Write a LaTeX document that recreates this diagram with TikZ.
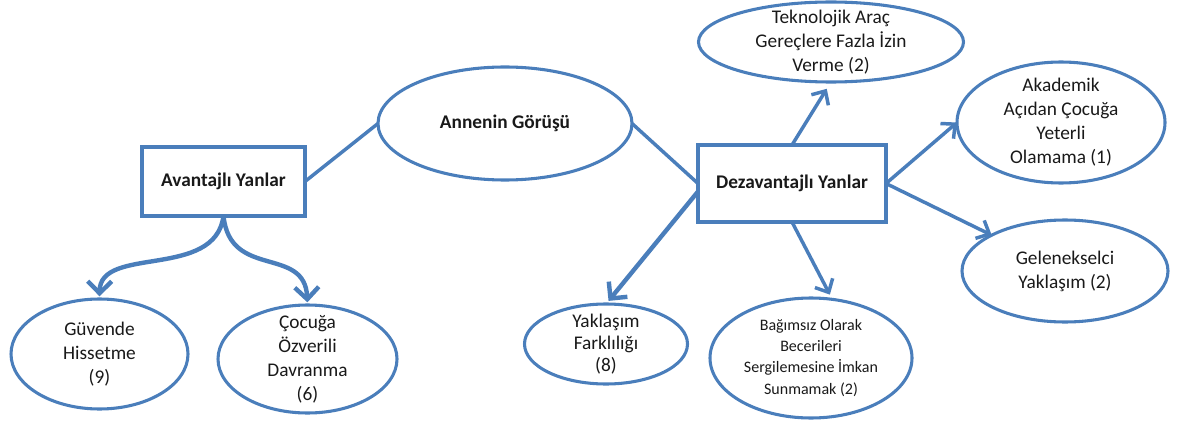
\documentclass[tikz,border=0pt]{standalone}
\usepackage{fontspec}
\setmainfont{Carlito}
\usetikzlibrary{arrows.meta,calc,shapes.geometric}
\definecolor{lnblue}{HTML}{4A7EBB}
\begin{document}
\begin{tikzpicture}[x=0.75pt,y=-0.75pt,
  every node/.style={font=\fontsize{14.5}{18}\selectfont, text=black!90},
  ell/.style 2 args={ellipse, draw=lnblue, line width=2.3pt, inner sep=-60pt, outer sep=0pt, align=center,
    minimum width=#1*0.75pt, minimum height=#2*0.75pt},
  box/.style 2 args={rectangle, draw=lnblue, line width=2.3pt, outer sep=0pt, inner sep=0pt,
    minimum width=#1*0.75pt, minimum height=#2*0.75pt, font=\fontsize{14.5}{18}\selectfont\bfseries},
  link/.style={draw=lnblue, line width=2.6pt},
  arr/.style={link, -{Straight Barb[length=8pt,width=15pt]}},
  bigarr/.style={draw=lnblue, line width=3.3pt, -{Straight Barb[length=9pt,width=18pt]}},
]
\useasboundingbox (0,0) rectangle (1177,424);

\node[box={163}{69}] (avan) at (223.5,181.5) {Avantajlı Yanlar};
\node[box={188}{77}] (dez) at (792,183.5) {Dezavantajlı Yanlar};
\node[ell={254}{113}, font=\fontsize{14.5}{18}\selectfont\bfseries] (ann) at (505,123.5) {Annenin Görüşü};
\node[ell={265}{80}] (tek) at (831,42) {Teknolojik Araç\\Gereçlere Fazla İzin\\Verme (2)};
\node[ell={208}{121}] (aka) at (1061,122.5) {Akademik\\Açıdan Çocuğa\\Yeterli\\Olamama (1)};
\node[ell={206}{102}] (gel) at (1065,271) {Gelenekselci\\Yaklaşım (2)};
\node[ell={202}{120}, font=\fontsize{12}{16}\selectfont] (bag) at (811,358) {\raisebox{-9pt}{\begin{tabular}{@{}c@{}}Bağımsız Olarak\\Becerileri\\Sergilemesine İmkan\\Sunmamak (2)\end{tabular}}};
\node[ell={163}{80}, font=\fontsize{14.5}{16.5}\selectfont] (yak) at (606,344) {Yaklaşım\\Farklılığı\\(8)};
\node[ell={177}{110}] (guv) at (99.5,354) {Güvende\\Hissetme\\(9)};
\node[ell={179}{108}] (coz) at (307.5,359) {Çocuğa\\Özverili\\Davranma\\(6)};

\draw[link] (avan.east) -- (ann.west);
\draw[link] (ann.east) -- (dez.west);
\draw[arr, shorten >=6pt] (dez.north) -- (tek.south);
\draw[arr] (dez.east) -- (aka.west);
\draw[arr] (dez.east) -- (gel);
\draw[arr, shorten >=4pt] (dez.south) -- (bag.70);
\draw[bigarr, shorten >=3pt] ($(dez.west)+(0,8)$) -- (yak.north);
\draw[bigarr, shorten >=2pt] (avan.south) .. controls (215,280) and (100,245) .. (guv.north);
\draw[bigarr, shorten >=2pt] (avan.south) .. controls (230,280) and (305,245) .. (coz.north);
\end{tikzpicture}
\end{document}
